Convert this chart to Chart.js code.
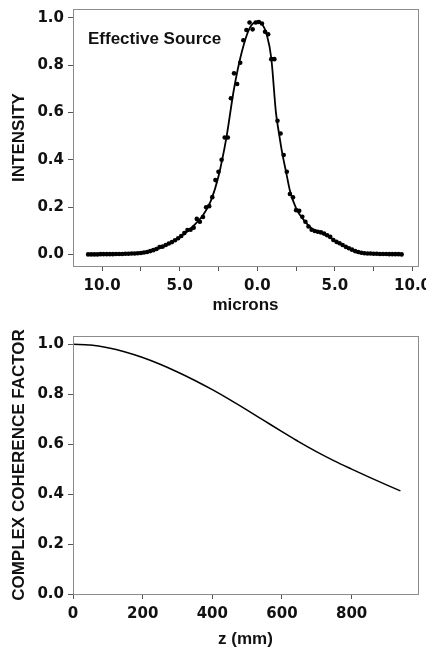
<!DOCTYPE html>
<html>
<head>
<meta charset="utf-8">
<script src="https://cdn.jsdelivr.net/npm/chart.js@4.4.1/dist/chart.umd.min.js"></script>
<style>
  body { margin: 0; background: #fff; }
  canvas { display: block; }
</style>
</head>
<body>
<canvas id="source" width="426" height="320"></canvas>
<canvas id="coherence" width="426" height="330"></canvas>
<script>
// measured intensity of the effective source (microns)
const sourceX = [-10.9,-10.7,-10.5,-10.3,-10.1,-9.9,-9.7,-9.5,-9.3,-9.1,-8.9,-8.7,-8.5,-8.3,-8.1,-7.9,-7.7,-7.5,-7.3,-7.1,
  -6.9,-6.7,-6.5,-6.3,-6.1,-5.9,-5.7,-5.5,-5.3,-5.1,-4.9,-4.7,-4.5,-4.3,-4.1,-3.9,-3.7,-3.5,-3.3,-3.1,
  -2.9,-2.7,-2.5,-2.3,-2.1,-1.9,-1.7,-1.5,-1.3,-1.1,-0.9,-0.7,-0.5,-0.3,-0.1,0.1,0.3,0.5,0.7,0.9,
  1.1,1.3,1.5,1.7,1.9,2.1,2.3,2.5,2.7,2.9,3.1,3.3,3.5,3.7,3.9,4.1,4.3,4.5,4.7,4.9,
  5.1,5.3,5.5,5.7,5.9,6.1,6.3,6.5,6.7,6.9,7.1,7.3,7.5,7.7,7.9,8.1,8.3,8.5,8.7,8.9,9.1,9.3];
const sourceY = [0.000,0.000,0.000,0.000,0.001,0.001,0.001,0.001,0.001,0.002,0.002,0.002,0.003,0.003,0.004,0.004,0.005,0.006,0.008,0.010,
  0.014,0.018,0.023,0.031,0.033,0.040,0.046,0.052,0.060,0.068,0.078,0.090,0.103,0.104,0.113,0.150,0.138,0.158,0.199,0.204,
  0.242,0.314,0.349,0.400,0.494,0.494,0.660,0.765,0.720,0.810,0.905,0.948,0.980,0.951,0.980,0.982,0.976,0.941,0.930,0.825,
  0.825,0.565,0.511,0.420,0.349,0.255,0.241,0.187,0.184,0.159,0.138,0.118,0.104,0.099,0.096,0.093,0.088,0.081,0.074,0.061,
  0.053,0.047,0.040,0.032,0.026,0.020,0.014,0.010,0.007,0.005,0.004,0.004,0.003,0.003,0.002,0.002,0.002,0.001,0.001,0.001,0.001,0.000];

// smooth fit through the source
const fitX = [-10.9,-10,-9,-8,-7.5,-7,-6.5,-6,-5.5,-5,-4.5,-4,-3.5,-3,-2.5,-2,-1.5,-1,-0.5,0,
  0.3,0.6,0.9,1.2,1.4,1.6,1.85,2.1,2.5,3,3.5,4,4.5,5,5.5,6,6.5,7,8,9.3];
const fitY = [0,0.001,0.002,0.004,0.007,0.012,0.021,0.034,0.051,0.073,0.098,0.128,0.165,0.225,0.33,0.49,0.70,0.855,0.955,0.985,
  0.975,0.93,0.83,0.60,0.51,0.43,0.35,0.27,0.195,0.145,0.11,0.094,0.08,0.058,0.038,0.022,0.011,0.005,0.002,0];

const micronTicks = [-10,-7.5,-5,-2.5,0,2.5,5,7.5,10];
const intensityTicks = [0,0.2,0.4,0.6,0.8,1.0];

// complex coherence factor vs z (mm)
const zVals = [0,50,100,150,200,250,300,350,400,450,500,550,600,650,700,750,800,850,900,940];
const coherence = [1.000,0.997,0.986,0.969,0.947,0.920,0.889,0.855,0.818,0.778,0.736,0.693,0.650,0.608,0.569,0.533,0.500,0.468,0.437,0.413];
const zTicks = [0,200,400,600,800];

const tickFont = { family: "DejaVu Sans", weight: "bold", size: 15 };
const titleFont = { family: "Liberation Sans, Arial", weight: "bold", size: 17 };

const framePlugin = {
  id: "frame",
  afterDraw(chart) {
    const { ctx, chartArea: a } = chart;
    ctx.save();
    ctx.strokeStyle = "#8c8c8c";
    ctx.lineWidth = 1;
    ctx.strokeRect(a.left + 0.5, a.top + 0.5, a.right - a.left, a.bottom - a.top);
    const label = chart.options.plugins.frame.label;
    if (label) {
      ctx.fillStyle = "#111";
      ctx.font = "bold 17px 'Liberation Sans', Arial";
      ctx.textBaseline = "alphabetic";
      ctx.fillText(label.text, label.x, label.y);
    }
    ctx.restore();
  }
};

function fixWidth(w) {
  return (s) => { s.width = w; s.paddingTop = 0; s.paddingBottom = 0; };
}
function fixHeight(h) {
  return (s) => { s.height = h; s.paddingLeft = 0; s.paddingRight = 0; };
}
function setTicks(values) {
  return (s) => { s.ticks = values.map((v) => ({ value: v })); };
}

function axis(extra) {
  return Object.assign({
    border: { display: true, color: "#8c8c8c", width: 1 },
    grid: { drawOnChartArea: false, drawTicks: true, tickLength: 5, tickColor: "#555" },
  }, extra);
}

new Chart(document.getElementById("source"), {
  type: "scatter",
  data: {
    datasets: [
      {
        data: fitX.map((x, i) => ({ x: x, y: fitY[i] })),
        showLine: true,
        borderColor: "#000",
        borderWidth: 1.8,
        pointRadius: 0,
        cubicInterpolationMode: "monotone",
      },
      {
        data: sourceX.map((x, i) => ({ x: x, y: sourceY[i] })),
        showLine: false,
        backgroundColor: "#000",
        borderColor: "#000",
        pointRadius: 2.3,
        borderWidth: 0,
      },
    ],
  },
  options: {
    responsive: false,
    animation: false,
    devicePixelRatio: 1,
    layout: { padding: { left: 0, right: 8, top: 9, bottom: 0 } },
    plugins: {
      legend: { display: false },
      tooltip: { enabled: false },
      frame: { label: { text: "Effective Source", x: 88, y: 44 } },
    },
    scales: {
      x: axis({
        type: "linear",
        min: -11.875,
        max: 10.354,
        afterBuildTicks: setTicks(micronTicks),
        afterFit: fixHeight(54),
        ticks: {
          font: tickFont, color: "#111", padding: 6, maxRotation: 0, autoSkip: false,
          callback: (v) => (v % 5 === 0 ? Math.abs(v).toFixed(1) : ""),
        },
        title: { display: true, text: "microns", font: titleFont, color: "#111", padding: { top: 0, bottom: 4 } },
      }),
      y: axis({
        type: "linear",
        min: -0.049,
        max: 1.037,
        afterBuildTicks: setTicks(intensityTicks),
        afterFit: fixWidth(73),
        ticks: { font: tickFont, color: "#111", padding: 4, callback: (v) => v.toFixed(1) },
        title: { display: true, text: "INTENSITY", font: titleFont, color: "#111", padding: { top: 9, bottom: 0 } },
      }),
    },
  },
  plugins: [framePlugin],
});

new Chart(document.getElementById("coherence"), {
  type: "line",
  data: {
    datasets: [
      {
        data: zVals.map((z, i) => ({ x: z, y: coherence[i] })),
        borderColor: "#000",
        borderWidth: 1.5,
        pointRadius: 0,
        cubicInterpolationMode: "monotone",
      },
    ],
  },
  options: {
    responsive: false,
    animation: false,
    devicePixelRatio: 1,
    layout: { padding: { left: 0, right: 8, top: 16, bottom: 0 } },
    plugins: {
      legend: { display: false },
      tooltip: { enabled: false },
      frame: {},
    },
    scales: {
      x: axis({
        type: "linear",
        min: 0,
        max: 990.5,
        afterBuildTicks: setTicks(zTicks),
        afterFit: fixHeight(56),
        ticks: { font: tickFont, color: "#111", padding: 6, maxRotation: 0, autoSkip: false },
        title: { display: true, text: "z (mm)", font: titleFont, color: "#111", padding: { top: 0, bottom: 0 } },
      }),
      y: axis({
        type: "linear",
        min: 0,
        max: 1.033,
        afterBuildTicks: setTicks(intensityTicks),
        afterFit: fixWidth(73),
        ticks: { font: tickFont, color: "#111", padding: 4, callback: (v) => v.toFixed(1) },
        title: { display: true, text: "COMPLEX COHERENCE FACTOR", font: titleFont, color: "#111", padding: { top: 9, bottom: 0 } },
      }),
    },
  },
  plugins: [framePlugin],
});
</script>
</body>
</html>
